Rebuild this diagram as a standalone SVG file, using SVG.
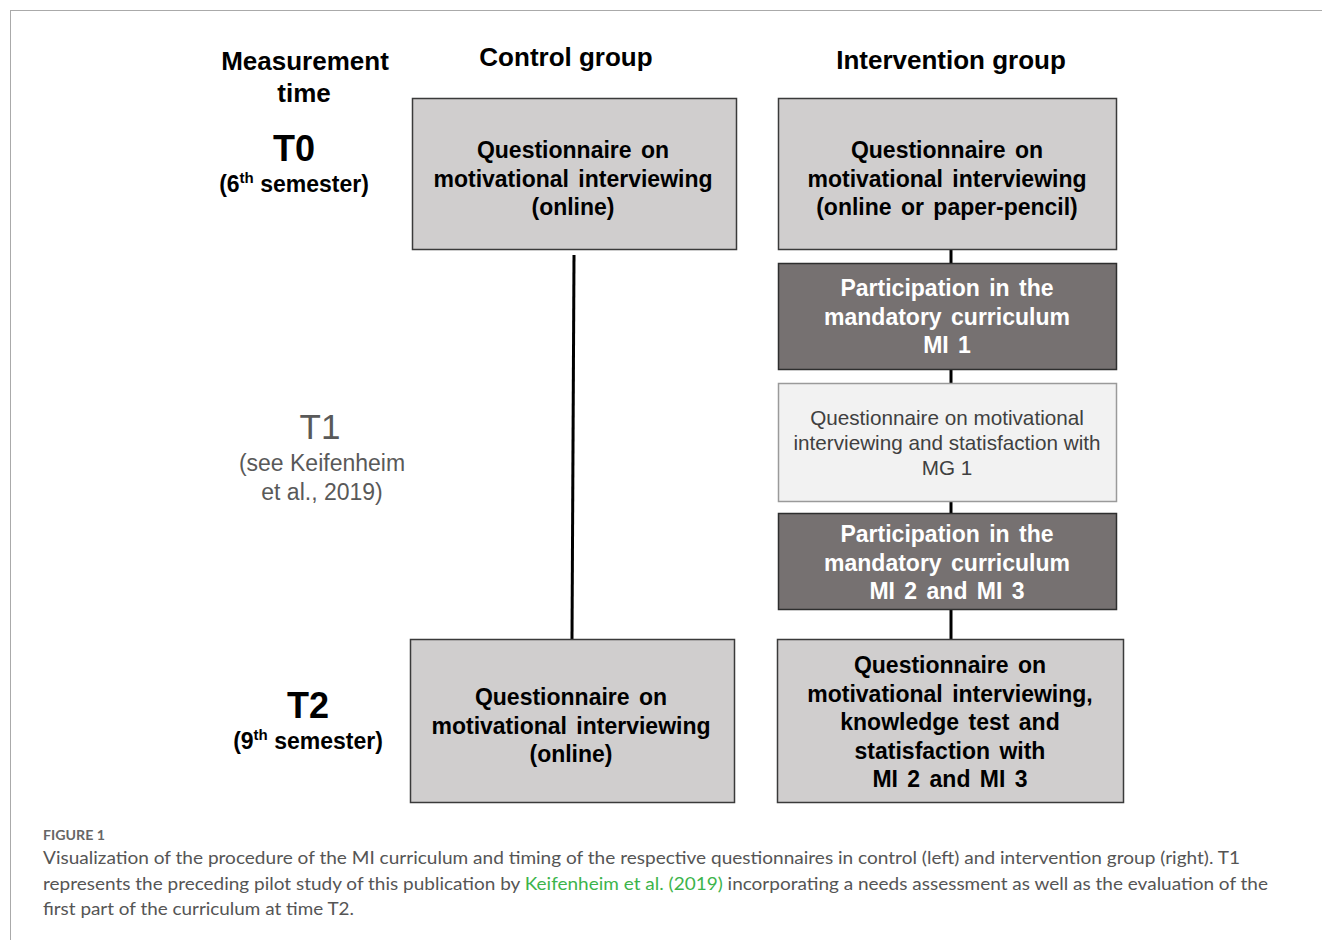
<svg xmlns="http://www.w3.org/2000/svg" width="1322" height="940" viewBox="0 0 1322 940">
<style>
.hdr{font-family:"Liberation Sans",Arial,sans-serif;font-weight:bold;font-size:26px;fill:#000;text-anchor:middle}
.tbig{font-family:"Liberation Sans",Arial,sans-serif;font-weight:bold;font-size:36px;fill:#000;text-anchor:middle}
.tsub{font-family:"Liberation Sans",Arial,sans-serif;font-weight:bold;font-size:23px;fill:#000;text-anchor:middle}
.t1big{font-family:"Liberation Sans",Arial,sans-serif;font-size:35px;fill:#595959;text-anchor:middle}
.t1sub{font-family:"Liberation Sans",Arial,sans-serif;font-size:23px;fill:#595959;text-anchor:middle}
.mid{fill:#d0cece;stroke:#3a3a3a;stroke-width:1.5}
.dark{fill:#767171;stroke:#2e2e2e;stroke-width:1.5}
.light{fill:#f2f2f2;stroke:#9a9a9a;stroke-width:1.5}
.bt{font-family:"Liberation Sans",Arial,sans-serif;font-weight:bold;font-size:23px;fill:#000;text-anchor:middle;word-spacing:3px}
.wt{font-family:"Liberation Sans",Arial,sans-serif;font-weight:bold;font-size:23px;fill:#fff;text-anchor:middle;word-spacing:3px}
.lt{font-family:"Liberation Sans",Arial,sans-serif;font-size:20.7px;fill:#404040;text-anchor:middle}
.conn line{stroke:#000;stroke-width:3}
.cap{font-family:Lato,"Liberation Sans",sans-serif;font-size:17.5px;fill:#555}
.fig{font-family:Lato,"Liberation Sans",sans-serif;font-size:13px;fill:#666;font-weight:bold}
</style>
<rect width="1322" height="940" fill="#fff"/>
<line x1="10" y1="10.5" x2="1322" y2="10.5" stroke="#aaa" stroke-width="1"/>
<line x1="10.5" y1="10" x2="10.5" y2="940" stroke="#aaa" stroke-width="1"/>

<g id="headers">
<text class="hdr" x="305" y="70">Measurement</text>
<text class="hdr" x="304" y="102">time</text>
<text class="hdr" x="566" y="66">Control group</text>
<text class="hdr" x="951" y="69">Intervention group</text>
</g>
<g id="t0">
<text class="tbig" x="294" y="161">T0</text>
<text class="tsub" x="294" y="192">(6<tspan font-size="15" dy="-9">th</tspan><tspan dy="9"> semester)</tspan></text>
</g>
<g id="t1">
<text class="t1big" x="320" y="439">T1</text>
<text class="t1sub" x="322" y="471">(see Keifenheim</text>
<text class="t1sub" x="322" y="500">et al., 2019)</text>
</g>
<g id="t2">
<text class="tbig" x="308" y="718">T2</text>
<text class="tsub" x="308" y="749">(9<tspan font-size="15" dy="-9">th</tspan><tspan dy="9"> semester)</tspan></text>
</g>

<g id="connectors" class="conn">
<line x1="574" y1="255" x2="572" y2="639"/>
<line x1="951" y1="249" x2="951" y2="263"/>
<line x1="951" y1="369" x2="951" y2="383"/>
<line x1="951" y1="501" x2="951" y2="513"/>
<line x1="951" y1="609" x2="951" y2="639"/>
</g>

<g id="control-t0">
<rect class="mid" x="412.5" y="98.5" width="324" height="151"/>
<text class="bt" x="573" y="158">Questionnaire on</text>
<text class="bt" x="573" y="187">motivational interviewing</text>
<text class="bt" x="573" y="215">(online)</text>
</g>
<g id="intervention-t0">
<rect class="mid" x="778.5" y="98.5" width="338" height="151"/>
<text class="bt" x="947" y="158">Questionnaire on</text>
<text class="bt" x="947" y="187">motivational interviewing</text>
<text class="bt" x="947" y="215">(online or paper-pencil)</text>
</g>
<g id="mi1">
<rect class="dark" x="778.5" y="263.5" width="338" height="106"/>
<text class="wt" x="947" y="296">Participation in the</text>
<text class="wt" x="947" y="325">mandatory curriculum</text>
<text class="wt" x="947" y="353">MI 1</text>
</g>
<g id="t1-questionnaire">
<rect class="light" x="778.5" y="383.5" width="338" height="118"/>
<text class="lt" x="947" y="425">Questionnaire on motivational</text>
<text class="lt" x="947" y="450">interviewing and statisfaction with</text>
<text class="lt" x="947" y="475">MG 1</text>
</g>
<g id="mi23">
<rect class="dark" x="778.5" y="513.5" width="338" height="96"/>
<text class="wt" x="947" y="542">Participation in the</text>
<text class="wt" x="947" y="571">mandatory curriculum</text>
<text class="wt" x="947" y="599">MI 2 and MI 3</text>
</g>
<g id="control-t2">
<rect class="mid" x="410.5" y="639.5" width="324" height="163"/>
<text class="bt" x="571" y="705">Questionnaire on</text>
<text class="bt" x="571" y="734">motivational interviewing</text>
<text class="bt" x="571" y="762">(online)</text>
</g>
<g id="intervention-t2">
<rect class="mid" x="777.5" y="639.5" width="346" height="163"/>
<text class="bt" x="950" y="673">Questionnaire on</text>
<text class="bt" x="950" y="702">motivational interviewing,</text>
<text class="bt" x="950" y="730">knowledge test and</text>
<text class="bt" x="950" y="759">statisfaction with</text>
<text class="bt" x="950" y="787">MI 2 and MI 3</text>
</g>

<g id="caption">
<text class="fig" x="43" y="840" textLength="62" lengthAdjust="spacingAndGlyphs">FIGURE 1</text>
<text class="cap" x="43" y="864" textLength="1197" lengthAdjust="spacingAndGlyphs">Visualization of the procedure of the MI curriculum and timing of the respective questionnaires in control (left) and intervention group (right). T1</text>
<text class="cap" x="43" y="890" textLength="1225" lengthAdjust="spacingAndGlyphs">represents the preceding pilot study of this publication by <tspan fill="#3cb44b">Keifenheim et al. (2019)</tspan> incorporating a needs assessment as well as the evaluation of the</text>
<text class="cap" x="43" y="915" textLength="311" lengthAdjust="spacingAndGlyphs">first part of the curriculum at time T2.</text>
</g>
</svg>
